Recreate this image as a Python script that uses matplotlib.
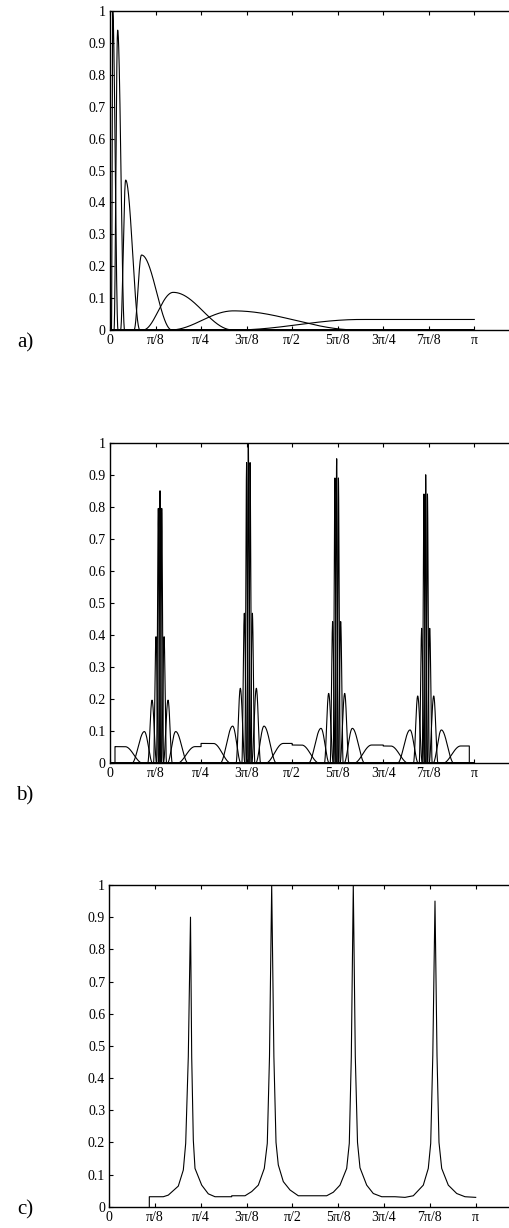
import numpy as np
import matplotlib
matplotlib.use("Agg")
import matplotlib.pyplot as plt

plt.rcParams["font.family"] = ["Liberation Serif", "DejaVu Serif"]

# ---- axis labels ---------------------------------------------------------
x_ticks_pi = [0, 1 / 8, 1 / 4, 3 / 8, 1 / 2, 5 / 8, 3 / 4, 7 / 8, 1]
x_tick_labels = ["0", "π/8", "π/4", "3π/8", "π/2", "5π/8", "3π/4", "7π/8", "π"]
y_ticks = [0, 0.1, 0.2, 0.3, 0.4, 0.5, 0.6, 0.7, 0.8, 0.9, 1.0]
y_tick_labels = ["0", "0.1", "0.2", "0.3", "0.4", "0.5", "0.6", "0.7", "0.8", "0.9", "1"]

# ---- a) dyadic band responses (frequencies in units of π) ----------------
a_left = [0.004, 0.011, 0.029, 0.066, 0.0906, 0.165]
a_peak = [0.0074, 0.021, 0.043, 0.0865, 0.1735, 0.339]
a_right = [0.022, 0.040, 0.082, 0.170, 0.3376, 0.68]
a_height = [1.0, 0.94, 0.47, 0.235, 0.118, 0.06]
a_tail = [0.34, 0.69, 0.033]          # ramp start, ramp end, level of the last band

# ---- b) four band-pass clusters -----------------------------------------
b_centres = [0.1373, 0.3797, 0.6222, 0.8666]
b_bounds = [0.0137, 0.25, 0.5, 0.75, 0.9863]
b_centre_peak = [0.85, 1.0, 0.95, 0.90]
b_band1 = [0.795, 0.938, 0.89, 0.84]
b_band2 = [0.395, 0.468, 0.442, 0.421]
b_band3 = [0.197, 0.234, 0.218, 0.21]
b_band4 = [0.099, 0.116, 0.109, 0.104]
b_plateau = [0.052, 0.062, 0.057, 0.054]
# side-band offsets from each centre: inner base, peak, outer base
b_inner = [0.0008, 0.0041, 0.0091, 0.020]
b_mid = [0.0047, 0.011, 0.022, 0.043]
b_outer = [0.0096, 0.0178, 0.0338, 0.0777]
b_centre_half = 0.0041
b_plat_ramp = [0.0467, 0.096]

# ---- c) combined response -------------------------------------------------
c_x = [0.1092, 0.1092, 0.1474, 0.1610, 0.1883, 0.2020, 0.2085, 0.2156, 0.2216,
       0.2249, 0.2293, 0.2339, 0.2522, 0.2702, 0.2885, 0.3341, 0.3341, 0.3704,
       0.3886, 0.4067, 0.4230, 0.4312, 0.4372, 0.4432, 0.4492, 0.4550, 0.4612,
       0.4749, 0.4932, 0.5158, 0.5933, 0.6114, 0.6296, 0.6479, 0.6550, 0.6605,
       0.6659, 0.6714, 0.6774, 0.6842, 0.7025, 0.7205, 0.7435, 0.7797, 0.8070,
       0.8297, 0.8570, 0.8706, 0.8772, 0.8829, 0.8889, 0.8944, 0.8998, 0.9072,
       0.9252, 0.9482, 0.9708, 1.0]
c_y = [0.0, 0.031, 0.031, 0.036, 0.064, 0.114, 0.197, 0.466, 0.90,
       0.466, 0.207, 0.119, 0.067, 0.040, 0.031, 0.031, 0.034, 0.034,
       0.047, 0.067, 0.119, 0.197, 0.466, 1.0, 0.466, 0.20, 0.13,
       0.078, 0.052, 0.034, 0.034, 0.045, 0.067, 0.119, 0.197, 0.466,
       1.0, 0.466, 0.20, 0.121, 0.067, 0.041, 0.031, 0.031, 0.029,
       0.034, 0.067, 0.119, 0.197, 0.47, 0.95, 0.47, 0.20, 0.119,
       0.067, 0.041, 0.031, 0.029]

LW = 0.8
W, H = 510, 1228


def bump(u, left, peak, right, h):
    """Raised-cosine band shape between two zero points."""
    y = np.zeros_like(u)
    m = (u >= left) & (u <= peak)
    y[m] = h * 0.5 * (1 - np.cos(np.pi * (u[m] - left) / (peak - left)))
    m = (u > peak) & (u <= right)
    y[m] = h * 0.5 * (1 + np.cos(np.pi * (u[m] - peak) / (right - peak)))
    return y


def ramp(d, lo, hi):
    t = np.clip((d - lo) / (hi - lo), 0, 1)
    return 0.5 * (1 - np.cos(np.pi * t))


def style(ax, xmax):
    ax.set_xlim(0, xmax * np.pi)
    ax.set_ylim(0, 1)
    ax.set_xticks([t * np.pi for t in x_ticks_pi])
    ax.set_xticklabels(x_tick_labels)
    ax.set_yticks(y_ticks)
    ax.set_yticklabels(y_tick_labels)
    ax.spines["right"].set_visible(False)
    for s in ("top", "bottom", "left"):
        ax.spines[s].set_linewidth(1.0)
    ax.tick_params(direction="in", length=3, width=0.8, top=True, right=False,
                   labelsize=10, pad=3)


fig = plt.figure(figsize=(W / 100, H / 100), dpi=100)


def add_axes(left_px, top_px, bottom_px):
    return fig.add_axes([left_px / W, 1 - bottom_px / H, 1 - left_px / W,
                         (bottom_px - top_px) / H])


# a)
ax = add_axes(110, 11, 330)
u = np.linspace(0, 1, 20001)
for l, p, r, h in zip(a_left, a_peak, a_right, a_height):
    ax.plot(u * np.pi, bump(u, l, p, r, h), color="black", lw=LW)
tail = a_tail[2] * ramp(u, a_tail[0], a_tail[1])
ax.plot(u * np.pi, tail, color="black", lw=LW)
style(ax, 400 / 364.3)

# b)
ax = add_axes(110, 442.7, 763.3)
u = np.linspace(0, 1, 40001)
for k, c in enumerate(b_centres):
    ax.plot(u * np.pi, bump(u, c - b_centre_half, c, c + b_centre_half,
                             b_centre_peak[k]), color="black", lw=LW)
    heights = [b_band1[k], b_band2[k], b_band3[k], b_band4[k]]
    for i, h in enumerate(heights):
        ax.plot(u * np.pi, bump(u, c - b_outer[i], c - b_mid[i], c - b_inner[i], h),
                color="black", lw=LW)
        ax.plot(u * np.pi, bump(u, c + b_inner[i], c + b_mid[i], c + b_outer[i], h),
                color="black", lw=LW)
# outer bands: one plateau per cluster, joined at the cluster boundaries
pu, py = [b_bounds[0]], [0.0]
for k, c in enumerate(b_centres):
    seg = np.linspace(b_bounds[k], b_bounds[k + 1], 4001)
    val = b_plateau[k] * ramp(np.abs(seg - c), b_plat_ramp[0], b_plat_ramp[1])
    pu.extend(seg.tolist())
    py.extend(val.tolist())
pu.append(b_bounds[-1])
py.append(0.0)
ax.plot(np.array(pu) * np.pi, py, color="black", lw=LW)
style(ax, 400 / 364.3)

# c)
ax = add_axes(109.3, 885, 1206.7)
ax.plot(np.array(c_x) * np.pi, c_y, color="black", lw=LW)
style(ax, 400.7 / 366.4)

for lab, yc in (("a)", 343), ("b)", 796), ("c)", 1210)):
    fig.text(25 / W, 1 - yc / H, lab, ha="center", va="center", fontsize=15)

fig.savefig("out.png", dpi=100)
